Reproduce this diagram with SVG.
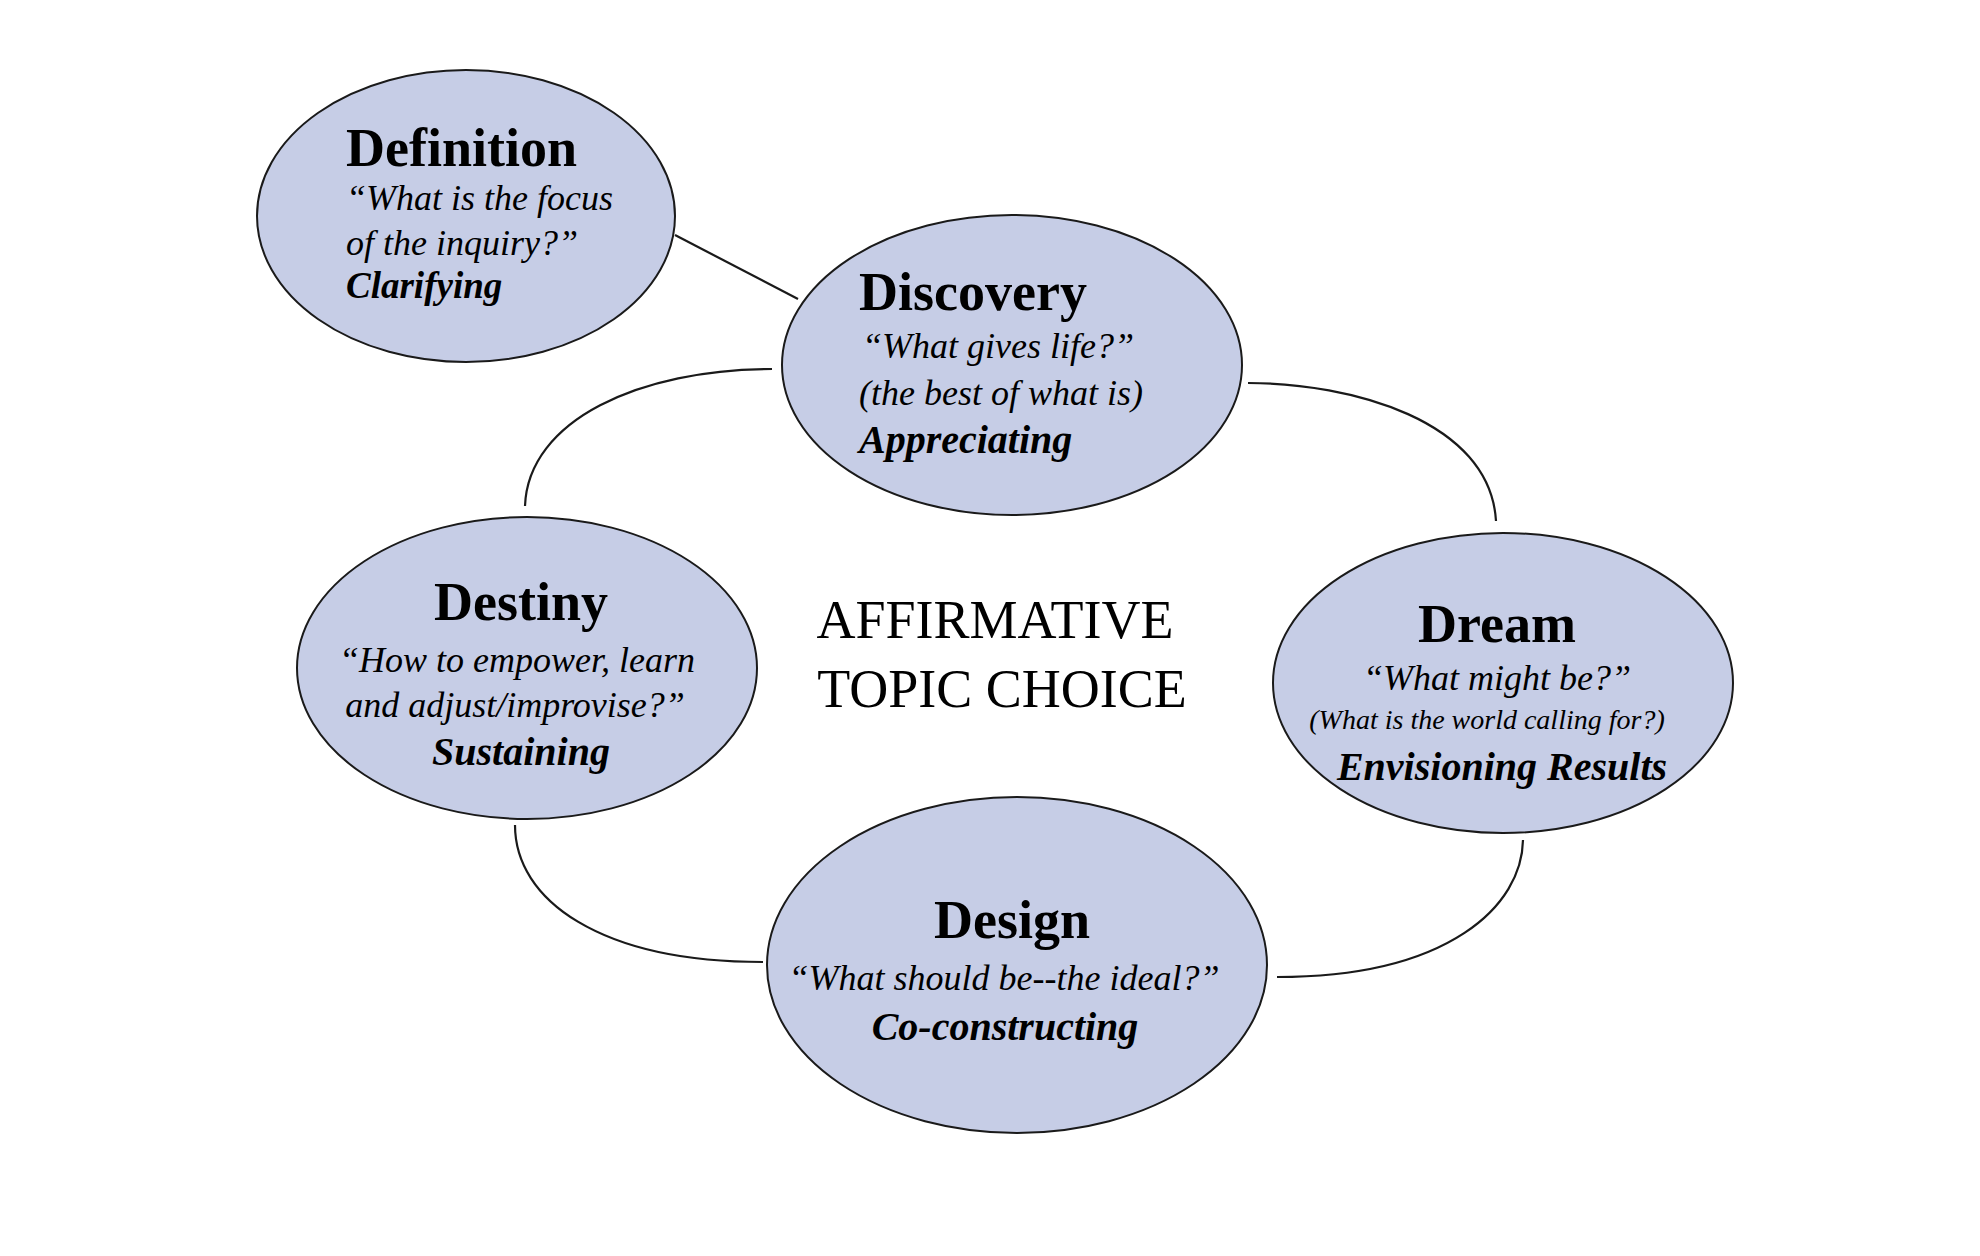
<svg xmlns="http://www.w3.org/2000/svg" width="1980" height="1256" viewBox="0 0 1980 1256">
<style>
.node{fill:#c6cde6;stroke:#1a1a1a;stroke-width:2}
.conn{fill:none;stroke:#1a1a1a;stroke-width:2.2}
text{font-family:"Liberation Serif","Times New Roman",serif;fill:#000}
.title{font-weight:bold;font-size:54px}
.q{font-style:italic;font-size:36px}
.act{font-style:italic;font-weight:bold;font-size:40px}
.c{text-anchor:middle}
.center{font-size:54px;text-anchor:middle}
</style>
<rect width="1980" height="1256" fill="#ffffff"/>
<g id="connectors">
<path class="conn" d="M675,235 L798,299"/>
<path class="conn" d="M772,369 C640,369 528,420 525,506"/>
<path class="conn" d="M1248,383 C1350,383 1490,420 1496,521"/>
<path class="conn" d="M515,825 C515,900 600,962 763,962"/>
<path class="conn" d="M1523,840 C1522,905 1450,977 1277,977"/>
</g>
<g id="definition">
<ellipse class="node" cx="466" cy="216" rx="209" ry="146"/>
<text class="title" x="346" y="166">Definition</text>
<text class="q" x="346" y="210">“What is the focus</text>
<text class="q" x="346" y="255">of the inquiry?”</text>
<text class="act" x="346" y="298" style="font-size:37px">Clarifying</text>
</g>
<g id="discovery">
<ellipse class="node" cx="1012" cy="365" rx="230" ry="150"/>
<text class="title" x="859" y="310">Discovery</text>
<text class="q" x="862" y="358">“What gives life?”</text>
<text class="q" x="859" y="405">(the best of what is)</text>
<text class="act" x="859" y="453">Appreciating</text>
</g>
<g id="destiny">
<ellipse class="node" cx="527" cy="668" rx="230" ry="151"/>
<text class="title c" x="521" y="620">Destiny</text>
<text class="q c" x="517" y="672">“How to empower, learn</text>
<text class="q c" x="515" y="717">and adjust/improvise?”</text>
<text class="act c" x="521" y="765">Sustaining</text>
</g>
<g id="dream">
<ellipse class="node" cx="1503" cy="683" rx="230" ry="150"/>
<text class="title c" x="1497" y="642">Dream</text>
<text class="q c" x="1497" y="690">“What might be?”</text>
<text class="q c" x="1487" y="729" style="font-size:28px">(What is the world calling for?)</text>
<text class="act c" x="1502" y="780">Envisioning Results</text>
</g>
<g id="design">
<ellipse class="node" cx="1017" cy="965" rx="250" ry="168"/>
<text class="title c" x="1012" y="938">Design</text>
<text class="q c" x="1004" y="990">“What should be--the ideal?”</text>
<text class="act c" x="1005" y="1040">Co-constructing</text>
</g>
<g id="topic">
<text class="center" x="995" y="638">AFFIRMATIVE</text>
<text class="center" x="1002" y="707">TOPIC CHOICE</text>
</g>
</svg>
